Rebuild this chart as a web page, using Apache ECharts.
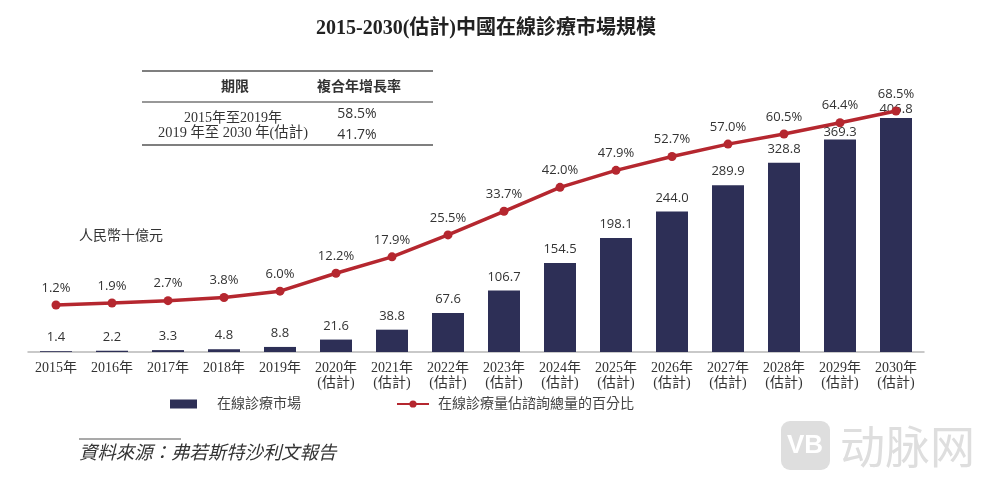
<!DOCTYPE html>
<html lang="zh-Hant">

<head>
    <meta charset="UTF-8">
    <title>2015-2030(估計)中國在線診療市場規模</title>
    <style>
        * {
            margin: 0;
            padding: 0;
        }

        html,
        body {
            width: 100%;
            height: 100%;
            background: #fff;
        }

        #chart {
            width: 987px;
            height: 480px;
        }
    </style>
</head>

<body>
    <div id="chart"></div>
    <script src="https://cdn.jsdelivr.net/npm/echarts@6/dist/echarts.min.js"></script>
    <script>
        const years = ['2015年', '2016年', '2017年', '2018年', '2019年',
            '2020年\n(估計)', '2021年\n(估計)', '2022年\n(估計)', '2023年\n(估計)', '2024年\n(估計)', '2025年\n(估計)',
            '2026年\n(估計)', '2027年\n(估計)', '2028年\n(估計)', '2029年\n(估計)', '2030年\n(估計)'
        ]
        const marketSize = [1.4, 2.2, 3.3, 4.8, 8.8, 21.6, 38.8, 67.6, 106.7, 154.5, 198.1, 244.0, 289.9, 328.8, 369.3, 406.8]
        const sharePct = [1.2, 1.9, 2.7, 3.8, 6.0, 12.2, 17.9, 25.5, 33.7, 42.0, 47.9, 52.7, 57.0, 60.5, 64.4, 68.5]
        const barName = '在線診療市場'
        const lineName = '在線診療量佔諮詢總量的百分比'
        const tableHead = ['期限', '複合年增長率']
        const tablePeriods = ['2015年至2019年', '2019 年至 2030 年(估計)']
        const tableRates = ['58.5%', '41.7%']

        const serif = '"Liberation Serif", "Noto Sans CJK TC", serif'
        const sans = '"Open Sans", "Noto Sans", sans-serif'

        function txt(x, y, text, size, extra) {
            return {
                type: 'text',
                x: x,
                y: y,
                silent: true,
                style: Object.assign({
                    text: text,
                    fontFamily: serif,
                    fontSize: size,
                    fill: '#333',
                    align: 'center',
                    verticalAlign: 'middle'
                }, extra)
            }
        }

        function rule(x1, x2, y, color, width) {
            return {
                type: 'line',
                silent: true,
                shape: { x1: x1, y1: y, x2: x2, y2: y },
                style: { stroke: color, lineWidth: width }
            }
        }

        let chart = echarts.init(document.getElementById('chart'), null, { renderer: 'canvas' })

        chart.setOption({
            animation: false,
            backgroundColor: '#fff',
            grid: { left: 28, right: 63, top: 100, bottom: 128 },
            legend: [{
                left: 170,
                top: 397,
                padding: 0,
                itemWidth: 27,
                itemHeight: 9,
                icon: 'rect',
                data: [barName],
                textStyle: { fontFamily: serif, fontSize: 14, color: '#444', padding: [0, 0, 0, 15] }
            }, {
                left: 396,
                top: 397,
                padding: 0,
                itemWidth: 32,
                itemHeight: 9,
                data: [lineName],
                textStyle: { fontFamily: serif, fontSize: 14, color: '#444', padding: [0, 0, 0, 4] }
            }],
            xAxis: {
                type: 'category',
                data: years,
                axisTick: { show: false },
                axisLine: { lineStyle: { color: '#b8b8b8', width: 1.5 } },
                axisLabel: {
                    interval: 0,
                    margin: 9,
                    fontFamily: serif,
                    fontSize: 14,
                    lineHeight: 15,
                    color: '#333'
                }
            },
            yAxis: [{
                type: 'value',
                min: 0,
                max: 438,
                show: false
            }, {
                type: 'value',
                min: -15.1,
                max: 72.3,
                show: false
            }],
            series: [{
                name: barName,
                type: 'bar',
                barWidth: 32,
                itemStyle: { color: '#2d2f56' },
                // 最后两个标签贴近柱顶
                data: marketSize.map(function (v, i) {
                    if (i >= 14) {
                        return { value: v, label: { distance: i == 15 ? 2 : 1 } }
                    }
                    return v
                }),
                label: {
                    show: true,
                    position: 'top',
                    distance: 7,
                    fontFamily: sans,
                    fontSize: 13,
                    color: '#333',
                    formatter: function (p) {
                        return p.value.toFixed(1)
                    }
                }
            }, {
                name: lineName,
                type: 'line',
                yAxisIndex: 1,
                z: 3,
                symbol: 'circle',
                symbolSize: 9,
                lineStyle: { color: '#b5272f', width: 3.5 },
                itemStyle: { color: '#b5272f' },
                data: sharePct,
                label: {
                    show: true,
                    position: 'top',
                    distance: 6,
                    fontFamily: sans,
                    fontSize: 13,
                    color: '#333',
                    formatter: function (p) {
                        return p.value.toFixed(1) + '%'
                    }
                }
            }],
            graphic: [
                txt(486, 29, '2015-2030(估計)中國在線診療市場規模', 20, { fontWeight: 'bold', fill: '#222' }),
                rule(142, 433, 71, '#555', 1.5),
                rule(142, 433, 102, '#333', 1.2),
                rule(142, 433, 145, '#555', 1.5),
                txt(235, 87, tableHead[0], 14, { fontWeight: 'bold' }),
                txt(359, 87, tableHead[1], 14, { fontWeight: 'bold' }),
                txt(233, 118, tablePeriods[0], 14),
                txt(233, 133, tablePeriods[1], 14.4),
                txt(357, 114, tableRates[0], 14, { fontFamily: sans }),
                txt(357, 135, tableRates[1], 14, { fontFamily: sans }),
                txt(79, 236, '人民幣十億元', 14, { align: 'left' }),
                rule(79, 181, 439, '#555', 1.2),
                txt(79, 454, '資料來源：弗若斯特沙利文報告', 18.4, { align: 'left', fontStyle: 'italic' }),
                // 水印
                {
                    type: 'rect',
                    silent: true,
                    shape: { x: 781, y: 421, width: 49, height: 49, r: 9 },
                    style: { fill: '#dedede' }
                },
                txt(805, 446, 'VB', 26, { fontFamily: 'Liberation Sans', fontWeight: 'bold', fill: '#fff' }),
                txt(840, 447, '动脉网', 45, { align: 'left', fontFamily: '"Noto Sans CJK SC"', fill: '#dedede' })
            ]
        })
    </script>
</body>

</html>
